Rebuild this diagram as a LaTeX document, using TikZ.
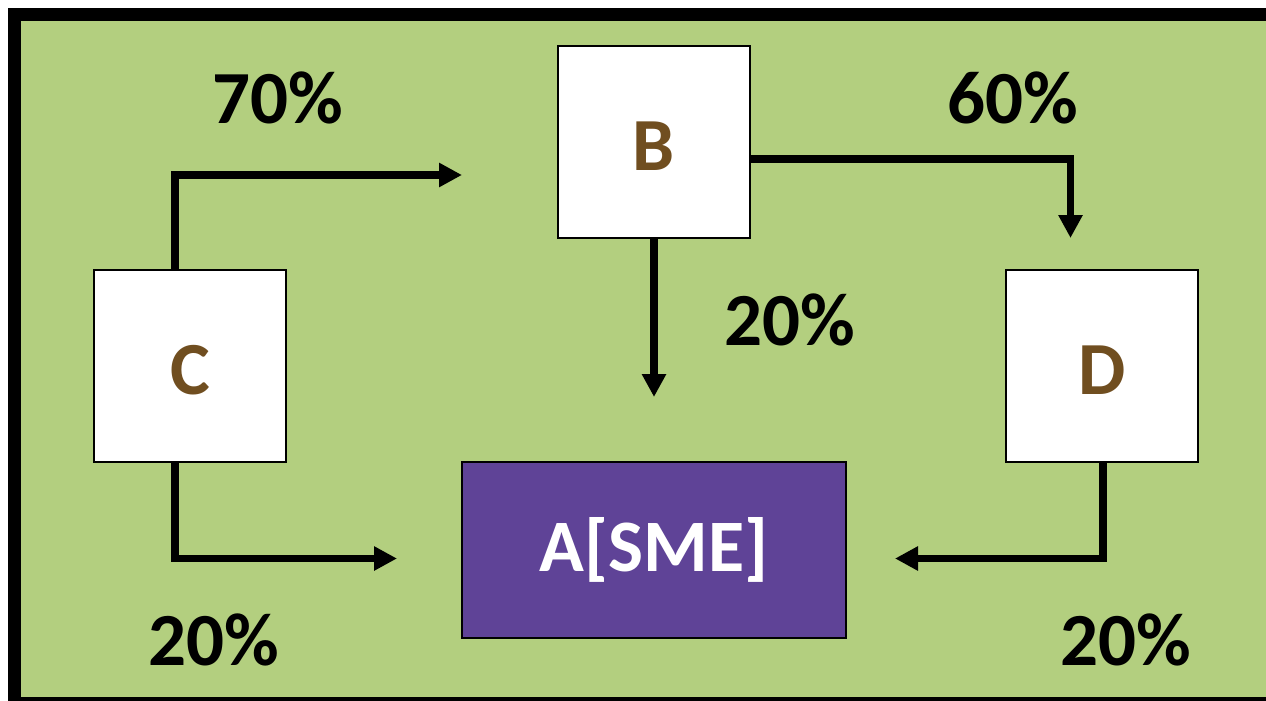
\documentclass[tikz,border=0pt]{standalone}
\usepackage{fontspec}
\setmainfont{Carlito}
\usetikzlibrary{arrows.meta}
\definecolor{bggreen}{RGB}{179,207,127}
\definecolor{boxpurple}{RGB}{95,67,151}
\definecolor{letterbrown}{RGB}{112,78,32}
\tikzset{
  wbox/.style={draw=black, line width=1.2pt, fill=white, minimum width=192pt, minimum height=192pt, inner sep=0pt, text=letterbrown},
  letter/.style={font=\bfseries\fontsize{75}{80}\selectfont, text=letterbrown, inner sep=0pt},
  abox/.style={draw=black, line width=1.2pt, fill=boxpurple, minimum width=384pt, minimum height=176pt, inner sep=0pt, font=\bfseries\fontsize{74}{78}\selectfont, text=white},
  pct/.style={font=\bfseries\fontsize{75}{80}\selectfont, text=black, inner sep=0pt},
  flow/.style={line width=7.5pt, -{Triangle[length=23pt,width=23pt]}}
}
\begin{document}
\begin{tikzpicture}[x=1pt,y=-1pt]
\useasboundingbox (0,0) rectangle (1266,701);
\fill[white] (0,0) rectangle (1266,701);
\begin{scope}
\clip (0,0) rectangle (1266,701);
\fill[bggreen] (14.5,14.5) rectangle (1272,703.5);
\draw[line width=12.5pt] (14.5,14.5) rectangle (1272,703.5);
\end{scope}
\node[wbox] (B) at (654,142) {};
\node[wbox] (C) at (190,366) {};
\node[wbox] (D) at (1102,366) {};
\node[letter] (lB) at (654,146) {B};
\node[letter] (lC) at (190,370) {C};
\node[letter] (lD) at (1102,370) {D};
\node[abox] (A) at (654,550) {A[SME]};
\coordinate (tCB) at (462,175);
\coordinate (tBD) at (1070.5,238);
\coordinate (tBA) at (654,397);
\coordinate (tCA) at (397,558.5);
\coordinate (tDA) at (895,558.5);
\draw[flow] ([xshift=-15pt]C.north) |- (tCB);
\draw[flow] ([yshift=-17pt]B.east) -| (tBD);
\draw[flow] (B.south) -- (tBA);
\draw[flow] ([xshift=-15pt]C.south) |- (tCA);
\draw[flow] ([xshift=1pt]D.south) |- (tDA);
\node[pct] (p1) at (278,98) {70\%};
\node[pct] (p2) at (1013,98) {60\%};
\node[pct] (p3) at (790,320) {20\%};
\node[pct] (p4) at (214,640) {20\%};
\node[pct] (p5) at (1126,640) {20\%};
\end{tikzpicture}
\end{document}
